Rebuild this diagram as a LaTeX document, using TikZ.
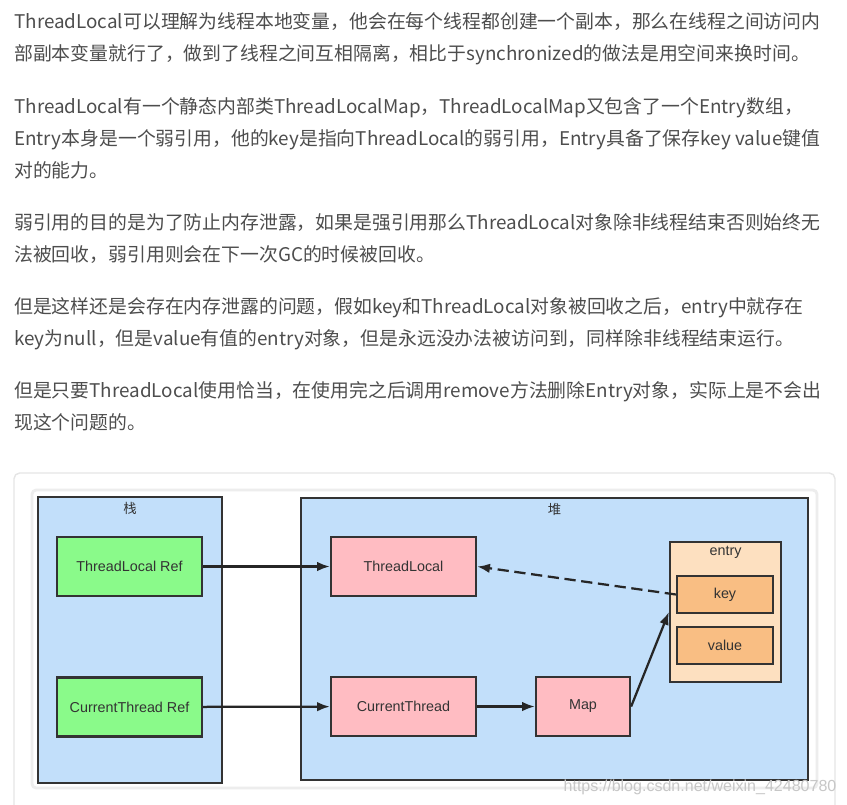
\documentclass[tikz,border=0pt]{standalone}
\usepackage{fontspec}
\setmainfont{Liberation Sans}
\newfontfamily\cjk{Noto Sans CJK SC}
\usetikzlibrary{arrows.meta,positioning}
\definecolor{txtgray}{HTML}{4D4D4D}
\definecolor{areablue}{RGB}{194,223,250}
\definecolor{refgreen}{RGB}{138,250,138}
\definecolor{objpink}{RGB}{255,188,194}
\definecolor{entrypeach}{RGB}{253,224,192}
\definecolor{kvorange}{RGB}{249,190,131}
\tikzset{
  para/.style={anchor=base west, align=left, inner sep=0pt, text=txtgray,
    font=\cjk\fontsize{13.4pt}{22.55pt}\selectfont},
  area/.style={draw=black!80, line width=1.6pt, fill=areablue},
  box/.style={draw=black!80, line width=1.6pt, text=black!80,
    minimum width=3.625cm, minimum height=1.475cm,
    font=\fontsize{10.2pt}{12pt}\selectfont},
  refbox/.style={box, fill=refgreen},
  objbox/.style={box, fill=objpink},
  kvbox/.style={box, fill=kvorange, minimum width=2.4cm, minimum height=0.925cm},
  ptr/.style={-{Latex[length=3.2mm,width=2.4mm]}, line width=1.6pt, black!85}
}
\begin{document}
\begin{tikzpicture}[x=0.025cm, y=-0.025cm]
  \useasboundingbox (0,0) rectangle (847,804);
  % text above the picture (base = last line)
  \node[para] (p1) at (14,60) {ThreadLocal可以理解为线程本地变量，他会在每个线程都创建一个副本，那么在线程之间访问内\\部副本变量就行了，做到了线程之间互相隔离，相比于synchronized的做法是用空间来换时间。};
  \node[para] (p2) at (14,177) {ThreadLocal有一个静态内部类ThreadLocalMap，ThreadLocalMap又包含了一个Entry数组，\\Entry本身是一个弱引用，他的key是指向ThreadLocal的弱引用，Entry具备了保存key value键值\\对的能力。};
  \node[para] (p3) at (14,261) {弱引用的目的是为了防止内存泄露，如果是强引用那么ThreadLocal对象除非线程结束否则始终无\\法被回收，弱引用则会在下一次GC的时候被回收。};
  \node[para] (p4) at (14,345) {但是这样还是会存在内存泄露的问题，假如key和ThreadLocal对象被回收之后，entry中就存在\\key为null，但是value有值的entry对象，但是永远没办法被访问到，同样除非线程结束运行。};
  \node[para] (p5) at (14,429) {但是只要ThreadLocal使用恰当，在使用完之后调用remove方法删除Entry对象，实际上是不会出\\现这个问题的。};

  % card
  \draw[black!10, line width=1pt, rounded corners=4pt, fill=white] (14,473) rectangle (835,820);
  \draw[black!7, line width=2pt, rounded corners=3pt, fill=white] (32,490) rectangle (817,788);

  % stack and heap
  \node[area, minimum width=4.6cm, minimum height=7.15cm] (stack) at (130,640) {};
  \node[below=1pt of stack.north, font=\cjk\fontsize{9.5pt}{11pt}\selectfont, text=black!80] (stacklabel) {栈};
  \node[area, minimum width=12.675cm, minimum height=7.05cm] (heap) at (554.5,639) {};
  \node[below=1pt of heap.north, font=\cjk\fontsize{9.5pt}{11pt}\selectfont, text=black!80] (heaplabel) {堆};

  \node[refbox] (tlref) at (129.5,566.5) {ThreadLocal Ref};
  \node[refbox] (ctref) at (129.5,707) {CurrentThread Ref};
  \node[objbox] (tl) at (403.5,566.5) {ThreadLocal};
  \node[objbox] (ct) at (403.5,706.5) {CurrentThread};
  \node[objbox, minimum width=2.35cm] (map) at (583,706.5) {Map};

  \node[box, fill=entrypeach, minimum width=2.775cm, minimum height=3.5cm] (entry) at (725.5,612) {};
  \node[below=0pt of entry.north, font=\fontsize{10.2pt}{12pt}\selectfont, text=black!80] (entrylabel) {entry};
  \node[kvbox] (key) at (725,594.5) {key};
  \node[kvbox] (value) at (725,645.5) {value};

  % references
  \draw[ptr] (tlref) -- (tl);
  \draw[ptr] (ctref) -- (ct);
  \draw[ptr] (ct) -- (map);
  \draw[ptr] (map.east) -- (entry.west);
  \draw[ptr, dash pattern=on 8pt off 4pt] (key.west) -- (tl.east);

  \node[text=black!22, font=\fontsize{11.4pt}{13pt}\selectfont] (mark) at (700,787) {https://blog.csdn.net/weixin\_42480780};
\end{tikzpicture}
\end{document}
